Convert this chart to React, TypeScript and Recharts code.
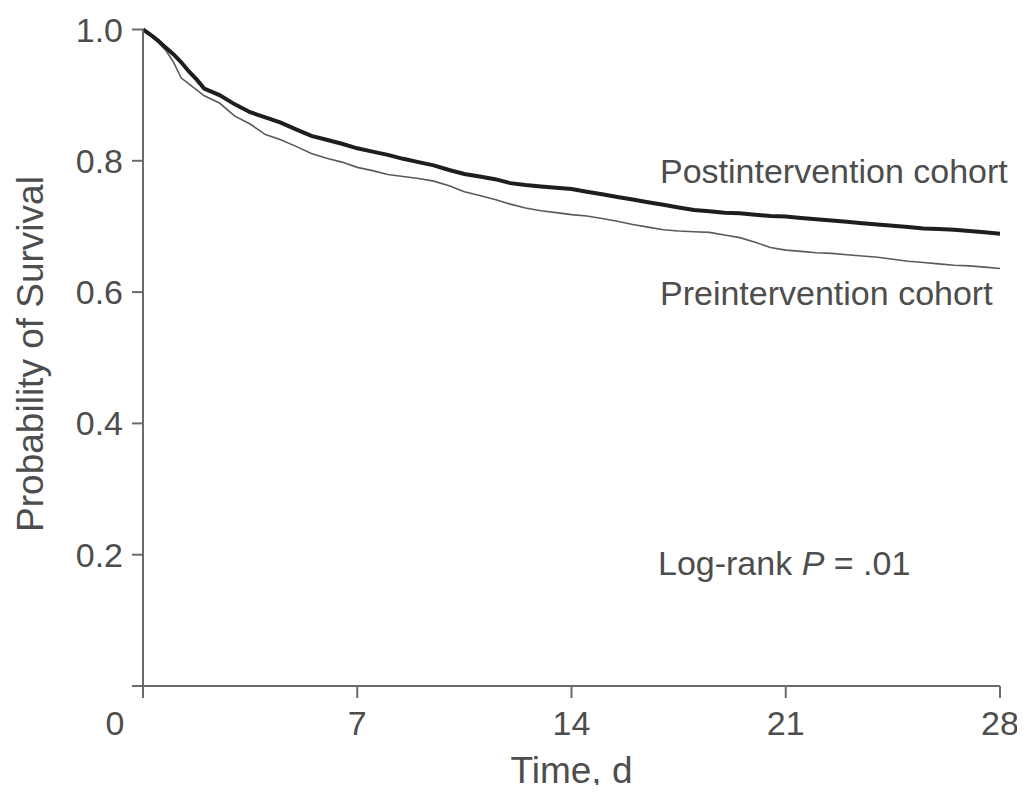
import React from "react";
import { LineChart, Line, XAxis, YAxis } from "recharts";

const times = [
  0, 0.25, 0.5, 0.75, 1, 1.25, 1.5, 1.75, 2, 2.5, 3, 3.5, 4, 4.5, 5, 5.5, 6, 6.5, 7, 7.5, 8, 8.5, 9, 9.5,
  10, 10.5, 11, 11.5, 12, 12.5, 13, 13.5, 14, 14.5, 15, 15.5, 16, 16.5, 17, 17.5, 18, 18.5, 19, 19.5,
  20, 20.5, 21, 21.5, 22, 22.5, 23, 23.5, 24, 24.5, 25, 25.5, 26, 26.5, 27, 27.5, 28,
];

const postSurvival = [
  1.0, 0.992, 0.983, 0.972, 0.962, 0.95, 0.936, 0.924, 0.91, 0.9, 0.886, 0.874, 0.866, 0.858, 0.848, 0.838,
  0.832, 0.826, 0.819, 0.814, 0.809, 0.803, 0.798, 0.793, 0.786, 0.78, 0.776, 0.772, 0.766, 0.763, 0.761,
  0.759, 0.757, 0.753, 0.749, 0.745, 0.741, 0.737, 0.733, 0.729, 0.725, 0.723, 0.721, 0.72, 0.718, 0.716,
  0.715, 0.713, 0.711, 0.709, 0.707, 0.705, 0.703, 0.701, 0.699, 0.697, 0.696, 0.695, 0.693, 0.691, 0.689,
];

const preSurvival = [
  1.0, 0.99, 0.98, 0.968, 0.95, 0.926, 0.917, 0.908, 0.899, 0.888, 0.868, 0.856, 0.84, 0.832, 0.822, 0.811,
  0.804, 0.798, 0.79, 0.785, 0.779, 0.776, 0.773, 0.769, 0.762, 0.753, 0.747, 0.741, 0.734, 0.728, 0.724,
  0.721, 0.718, 0.716, 0.712, 0.708, 0.703, 0.699, 0.695, 0.693, 0.692, 0.691, 0.687, 0.683, 0.676, 0.668,
  0.664, 0.662, 0.66, 0.659, 0.657, 0.655, 0.653, 0.65, 0.647, 0.645, 0.643, 0.641, 0.64, 0.638, 0.636,
];

const xTicks = [0, 7, 14, 21, 28];
const yTicks = [0, 0.2, 0.4, 0.6, 0.8, 1.0];

const seriesNames = {
  post: "Postintervention cohort",
  pre: "Preintervention cohort",
};

const data = times.map((t, i) => ({ t, post: postSurvival[i], pre: preSurvival[i] }));

const FONT = '"Liberation Sans", Arial, Helvetica, sans-serif';
const TEXT = "#4d4d4d";
const AXIS = "#6b6b6b";

const XTick = (props: any) => {
  const { x, y, payload } = props;
  const shift = payload.value === 0 ? -28 : 0;
  return (
    <text x={x + shift} y={y} dy={37} textAnchor="middle" fill={TEXT} fontSize={34} fontFamily={FONT}>
      {payload.value}
    </text>
  );
};

const YTick = (props: any) => {
  const { x, y, payload } = props;
  if (payload.value === 0) return <g />;
  return (
    <text x={x} y={y} dy={12} textAnchor="end" fill={TEXT} fontSize={34} fontFamily={FONT}>
      {Number(payload.value).toFixed(1)}
    </text>
  );
};

export default function App() {
  return (
    <div style={{ position: "relative", width: 1017, height: 777, background: "#fff" }}>
      <LineChart
        width={1017}
        height={777}
        data={data}
        margin={{ top: 21.5, right: 25, bottom: 0, left: 0 }}
        style={{ overflow: "visible" }}
      >
        <XAxis
          dataKey="t"
          type="number"
          domain={[0, 28]}
          ticks={xTicks}
          height={99}
          tickSize={12}
          tickMargin={0}
          tick={<XTick />}
          axisLine={{ stroke: AXIS, strokeWidth: 2 }}
          tickLine={{ stroke: AXIS, strokeWidth: 2 }}
          allowDataOverflow
        />
        <YAxis
          type="number"
          domain={[0, 1]}
          ticks={yTicks}
          width={135}
          tickSize={11}
          tickMargin={9}
          tick={<YTick />}
          axisLine={{ stroke: AXIS, strokeWidth: 2 }}
          tickLine={{ stroke: AXIS, strokeWidth: 2 }}
        />
        <Line
          type="linear"
          dataKey="pre"
          name={seriesNames.pre}
          stroke="#5a5a5a"
          strokeWidth={1.6}
          dot={false}
          isAnimationActive={false}
        />
        <Line
          type="linear"
          dataKey="post"
          name={seriesNames.post}
          stroke="#1e1e1e"
          strokeWidth={4}
          dot={false}
          isAnimationActive={false}
        />
      </LineChart>
      <svg
        width={1017}
        height={777}
        style={{ position: "absolute", left: 0, top: 0, pointerEvents: "none", overflow: "visible" }}
        fontFamily={FONT}
        fontSize={34}
        fill={TEXT}
      >
        <text x={652} y={175}>{seriesNames.post}</text>
        <text x={652} y={297}>{seriesNames.pre}</text>
        <text x={650} y={567}>
          Log-rank <tspan fontStyle="italic">P</tspan> = .01
        </text>
        <text x={563.5} y={775} textAnchor="middle" fontSize={37}>Time, d</text>
        <text transform="translate(35,346) rotate(-90)" textAnchor="middle" fontSize={37}>
          Probability of Survival
        </text>
      </svg>
    </div>
  );
}
